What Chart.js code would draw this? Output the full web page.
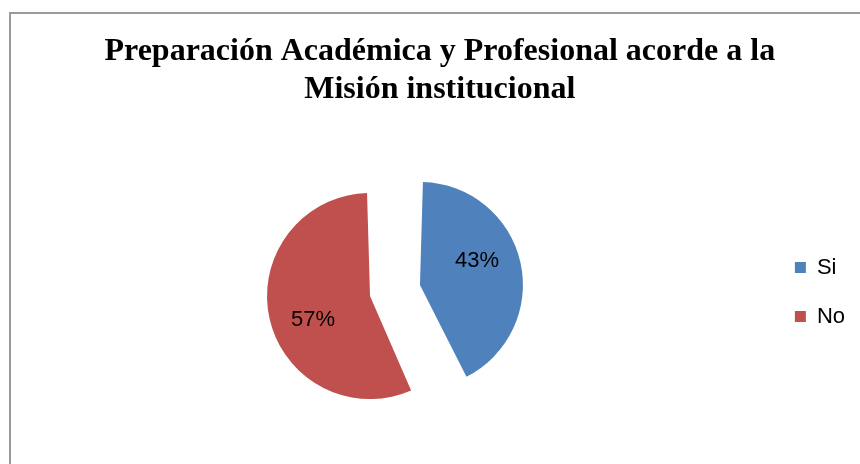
<!DOCTYPE html>
<html>
<head>
<meta charset="utf-8">
<script src="https://cdn.jsdelivr.net/npm/chart.js@4"></script>
<style>
  html, body { margin: 0; padding: 0; background: #fff; }
  #wrap { width: 860px; height: 464px; }
</style>
</head>
<body>
<div id="wrap"><canvas id="pieChart" width="860" height="464"></canvas></div>
<script>
// Datos del gráfico
const categorias = ['Si', 'No'];
const valores = [43, 57];
const colores = ['#4F81BD', '#C0504D'];
const tituloLineas = ['Preparación Académica y Profesional acorde a la', 'Misión institucional'];

// Marco gris del gráfico (solo borde izquierdo y superior visibles)
const marco = {
    id: 'marco',
    beforeDraw(chart) {
        const ctx = chart.ctx;
        ctx.save();
        ctx.strokeStyle = '#9a9a9a';
        ctx.lineWidth = 2;
        ctx.beginPath();
        ctx.moveTo(10, 464);
        ctx.lineTo(10, 13);
        ctx.lineTo(860, 13);
        ctx.stroke();
        ctx.restore();
    }
};

// El título va centrado en el marco completo, no solo a la izquierda de la leyenda
const moverTitulo = {
    id: 'moverTitulo',
    afterLayout(chart) {
        const t = chart.titleBlock;
        if (t) { t.left += 8; t.right += 8; }
    }
};

// Etiquetas de porcentaje dentro de cada porción
const etiquetas = {
    id: 'etiquetas',
    afterDatasetsDraw(chart) {
        const ctx = chart.ctx;
        const meta = chart.getDatasetMeta(0);
        const total = valores.reduce((a, b) => a + b, 0);
        ctx.save();
        ctx.font = '22px "Liberation Sans", Arial, sans-serif';
        ctx.fillStyle = '#000';
        ctx.textAlign = 'center';
        ctx.textBaseline = 'middle';
        meta.data.forEach((arc, i) => {
            const p = arc.getProps(['x', 'y', 'startAngle', 'endAngle', 'outerRadius', 'circumference']);
            const mid = (p.startAngle + p.endAngle) / 2;
            const off = (arc.options.offset || 0) / 4;
            const cx = p.x + Math.cos(mid) * off;
            const cy = p.y + Math.sin(mid) * off;
            // radio visible (Chart.js agranda la porción desplazada)
            const rVis = p.outerRadius + off * (1 - Math.sin(Math.min(Math.PI, p.circumference)));
            const a = mid - 0.175;
            const r = rVis * 0.6;
            const txt = Math.round(valores[i] / total * 100) + '%';
            ctx.fillText(txt, cx + Math.cos(a) * r, cy + Math.sin(a) * r);
        });
        ctx.restore();
    }
};

const ctx = document.getElementById('pieChart').getContext('2d');
new Chart(ctx, {
    type: 'pie',
    data: {
        labels: categorias,
        datasets: [{
            data: valores,
            backgroundColor: colores,
            borderWidth: 0,
            radius: 84.3,
            offset: [130, 74.7],
            hoverOffset: 0
        }]
    },
    options: {
        responsive: false,
        animation: false,
        layout: { padding: { left: 8.6, right: 5, top: 0, bottom: 22.7 } },
        plugins: {
            title: {
                display: true,
                text: tituloLineas,
                color: '#000',
                font: { family: '"Liberation Serif", "Times New Roman", serif', size: 32, weight: 'bold', lineHeight: 1.19 },
                padding: { top: 33, bottom: 33.5 }
            },
            legend: {
                display: true,
                position: 'right',
                fullSize: false,
                labels: {
                    color: '#000',
                    font: { family: '"Liberation Sans", Arial, sans-serif', size: 22 },
                    boxWidth: 11,
                    boxHeight: 11,
                    padding: 27
                }
            },
            tooltip: { enabled: false }
        }
    },
    plugins: [marco, moverTitulo, etiquetas]
});
</script>
</body>
</html>
